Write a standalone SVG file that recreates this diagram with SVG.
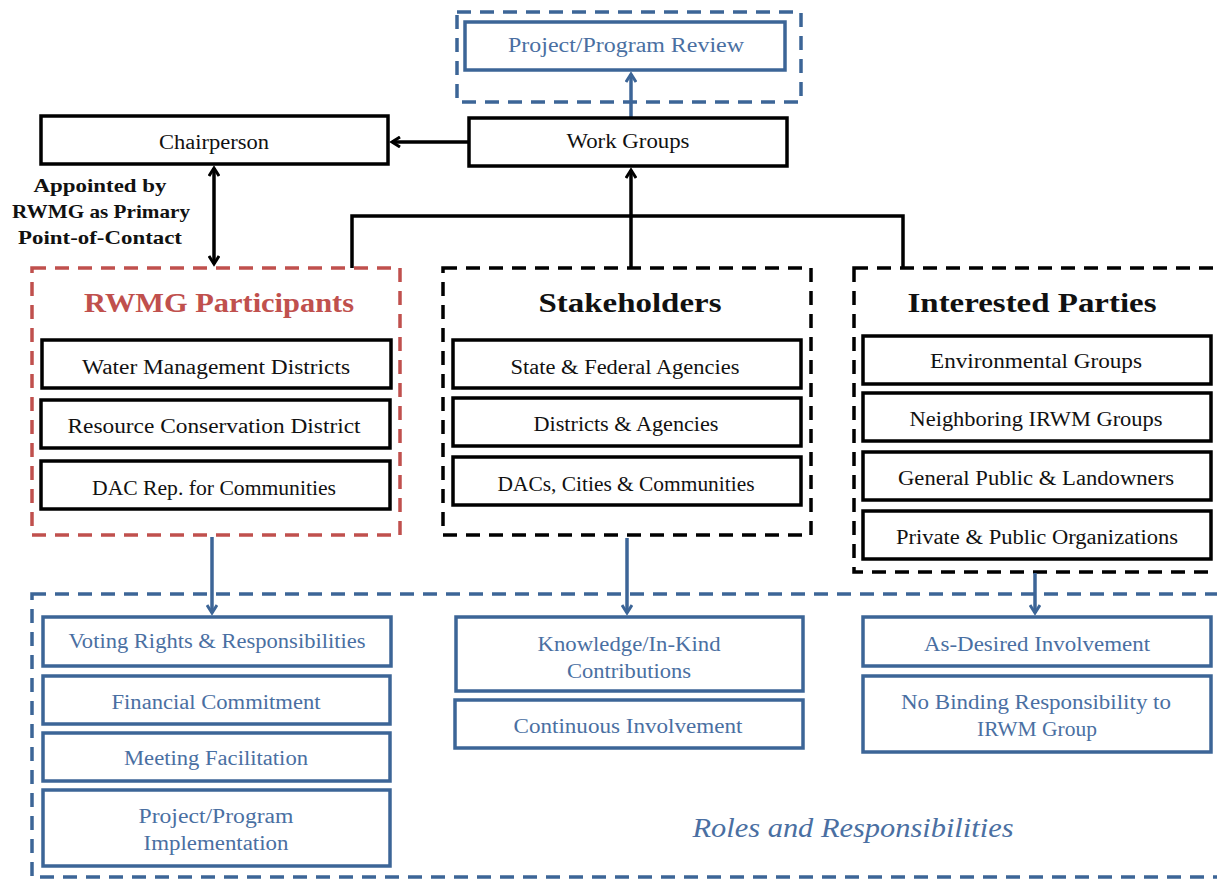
<svg xmlns="http://www.w3.org/2000/svg" width="1217" height="880" viewBox="0 0 1217 880">
<defs>
<style>
text{font-family:"Liberation Serif","DejaVu Serif",serif;text-anchor:middle;}
.bb{fill:#fff;stroke:#000;stroke-width:3.5;}
.blb{fill:#fff;stroke:#3C6597;stroke-width:3.5;}
.t{font-size:20px;fill:#111;}
.tb{font-size:20px;fill:#4A6FA2;}
.ttl{font-size:28px;font-weight:bold;fill:#111;}
.lbl{font-size:19px;font-weight:bold;fill:#111;}
.dk{fill:none;stroke:#000;stroke-width:3.5;stroke-dasharray:14 9;}
.dr{fill:none;stroke:#C0504D;stroke-width:3.5;stroke-dasharray:14 9;}
.db{fill:none;stroke:#3C6597;stroke-width:3.5;stroke-dasharray:14 9;}
.ck{fill:none;stroke:#000;stroke-width:3.5;}
.cb{fill:none;stroke:#3C6597;stroke-width:3.5;}
</style>
<marker id="ak" markerWidth="12" markerHeight="12" refX="9" refY="6" orient="auto-start-reverse" markerUnits="userSpaceOnUse"><path d="M1,1 L9,6 L1,11" fill="none" stroke="#000" stroke-width="3"/></marker>
<marker id="ab" markerWidth="12" markerHeight="12" refX="9" refY="6" orient="auto-start-reverse" markerUnits="userSpaceOnUse"><path d="M1,1 L9,6 L1,11" fill="none" stroke="#3C6597" stroke-width="3"/></marker>
</defs>

<g id="containers">
<rect id="review-frame" class="db" x="457" y="12" width="344" height="90"/>
<rect id="rwmg-frame" class="dr" x="32" y="268" width="368" height="267"/>
<rect id="stake-frame" class="dk" x="443" y="268" width="368" height="267"/>
<rect id="ip-frame" class="dk" x="854" y="268" width="370" height="304"/>
<rect id="roles-frame" class="db" x="32" y="594" width="1192" height="283"/>
</g>

<g id="connectors">
<path class="ck" d="M469,142 H392" marker-end="url(#ak)"/>
<path class="cb" d="M631,118 V74" marker-end="url(#ab)"/>
<path class="ck" d="M214,168 V264" marker-start="url(#ak)" marker-end="url(#ak)"/>
<path class="ck" d="M352,268 V216 H903 V268"/>
<path class="ck" d="M631,268 V170" marker-end="url(#ak)"/>
<path class="cb" d="M212,537 V613" marker-end="url(#ab)"/>
<path class="cb" d="M627,538 V613" marker-end="url(#ab)"/>
<path class="cb" d="M1035,573 V613" marker-end="url(#ab)"/>
</g>

<g id="review"><rect class="blb" x="465" y="22" width="320" height="48"/><text class="tb" x="626" y="52" textLength="236" lengthAdjust="spacingAndGlyphs">Project/Program Review</text></g>
<g id="workgroups"><rect class="bb" x="469" y="118" width="318" height="48"/><text class="t" x="628" y="148" textLength="123" lengthAdjust="spacingAndGlyphs">Work Groups</text></g>
<g id="chairperson"><rect class="bb" x="41" y="116" width="347" height="48"/><text class="t" x="214" y="149" textLength="110" lengthAdjust="spacingAndGlyphs">Chairperson</text></g>
<g id="appointed-label">
<text class="lbl" x="100" y="192" textLength="133" lengthAdjust="spacingAndGlyphs">Appointed by</text>
<text class="lbl" x="101" y="218" textLength="178" lengthAdjust="spacingAndGlyphs">RWMG as Primary</text>
<text class="lbl" x="100" y="244" textLength="164" lengthAdjust="spacingAndGlyphs">Point-of-Contact</text>
</g>

<g id="rwmg">
<text class="ttl" x="219" y="312" style="fill:#C0504D" textLength="270" lengthAdjust="spacingAndGlyphs">RWMG Participants</text>
<rect class="bb" x="42" y="340" width="349" height="48"/><text class="t" x="216" y="374" textLength="268" lengthAdjust="spacingAndGlyphs">Water Management Districts</text>
<rect class="bb" x="41" y="400" width="349" height="48"/><text class="t" x="214" y="433" textLength="293" lengthAdjust="spacingAndGlyphs">Resource Conservation District</text>
<rect class="bb" x="41" y="461" width="349" height="48"/><text class="t" x="214" y="495" textLength="244" lengthAdjust="spacingAndGlyphs">DAC Rep. for Communities</text>
</g>

<g id="stakeholders">
<text class="ttl" x="630" y="312" textLength="183" lengthAdjust="spacingAndGlyphs">Stakeholders</text>
<rect class="bb" x="453" y="340" width="348" height="48"/><text class="t" x="625" y="374" textLength="229" lengthAdjust="spacingAndGlyphs">State &amp; Federal Agencies</text>
<rect class="bb" x="453" y="398" width="348" height="48"/><text class="t" x="626" y="431" textLength="185" lengthAdjust="spacingAndGlyphs">Districts &amp; Agencies</text>
<rect class="bb" x="453" y="457" width="348" height="48"/><text class="t" x="626" y="491" textLength="257" lengthAdjust="spacingAndGlyphs">DACs, Cities &amp; Communities</text>
</g>

<g id="interested">
<text class="ttl" x="1032" y="312" textLength="249" lengthAdjust="spacingAndGlyphs">Interested Parties</text>
<rect class="bb" x="863" y="336" width="348" height="48"/><text class="t" x="1036" y="368" textLength="212" lengthAdjust="spacingAndGlyphs">Environmental Groups</text>
<rect class="bb" x="863" y="393" width="348" height="48"/><text class="t" x="1036" y="426" textLength="253" lengthAdjust="spacingAndGlyphs">Neighboring IRWM Groups</text>
<rect class="bb" x="863" y="452" width="348" height="48"/><text class="t" x="1036" y="485" textLength="276" lengthAdjust="spacingAndGlyphs">General Public &amp; Landowners</text>
<rect class="bb" x="863" y="511" width="348" height="48"/><text class="t" x="1037" y="544" textLength="282" lengthAdjust="spacingAndGlyphs">Private &amp; Public Organizations</text>
</g>

<g id="roles-rwmg">
<rect class="blb" x="43" y="617" width="348" height="49"/><text class="tb" x="217" y="648" textLength="297" lengthAdjust="spacingAndGlyphs">Voting Rights &amp; Responsibilities</text>
<rect class="blb" x="43" y="676" width="347" height="48"/><text class="tb" x="216" y="709" textLength="209" lengthAdjust="spacingAndGlyphs">Financial Commitment</text>
<rect class="blb" x="43" y="733" width="347" height="48"/><text class="tb" x="216" y="765" textLength="184" lengthAdjust="spacingAndGlyphs">Meeting Facilitation</text>
<rect class="blb" x="43" y="790" width="347" height="76"/><text class="tb" x="216" y="823" textLength="155" lengthAdjust="spacingAndGlyphs">Project/Program</text><text class="tb" x="216" y="850" textLength="145" lengthAdjust="spacingAndGlyphs">Implementation</text>
</g>

<g id="roles-stake">
<rect class="blb" x="456" y="617" width="347" height="74"/><text class="tb" x="629" y="651" textLength="183" lengthAdjust="spacingAndGlyphs">Knowledge/In-Kind</text><text class="tb" x="629" y="678" textLength="124" lengthAdjust="spacingAndGlyphs">Contributions</text>
<rect class="blb" x="455" y="700" width="348" height="48"/><text class="tb" x="628" y="733" textLength="229" lengthAdjust="spacingAndGlyphs">Continuous Involvement</text>
</g>

<g id="roles-ip">
<rect class="blb" x="863" y="617" width="348" height="49"/><text class="tb" x="1037" y="651" textLength="226" lengthAdjust="spacingAndGlyphs">As-Desired Involvement</text>
<rect class="blb" x="863" y="676" width="348" height="76"/><text class="tb" x="1036" y="709" textLength="270" lengthAdjust="spacingAndGlyphs">No Binding Responsibility to</text><text class="tb" x="1037" y="736" textLength="120" lengthAdjust="spacingAndGlyphs">IRWM Group</text>
</g>

<text id="roles-title" x="853" y="837" style="font-size:28px;font-style:italic;fill:#4A6FA2" textLength="321" lengthAdjust="spacingAndGlyphs">Roles and Responsibilities</text>
</svg>
